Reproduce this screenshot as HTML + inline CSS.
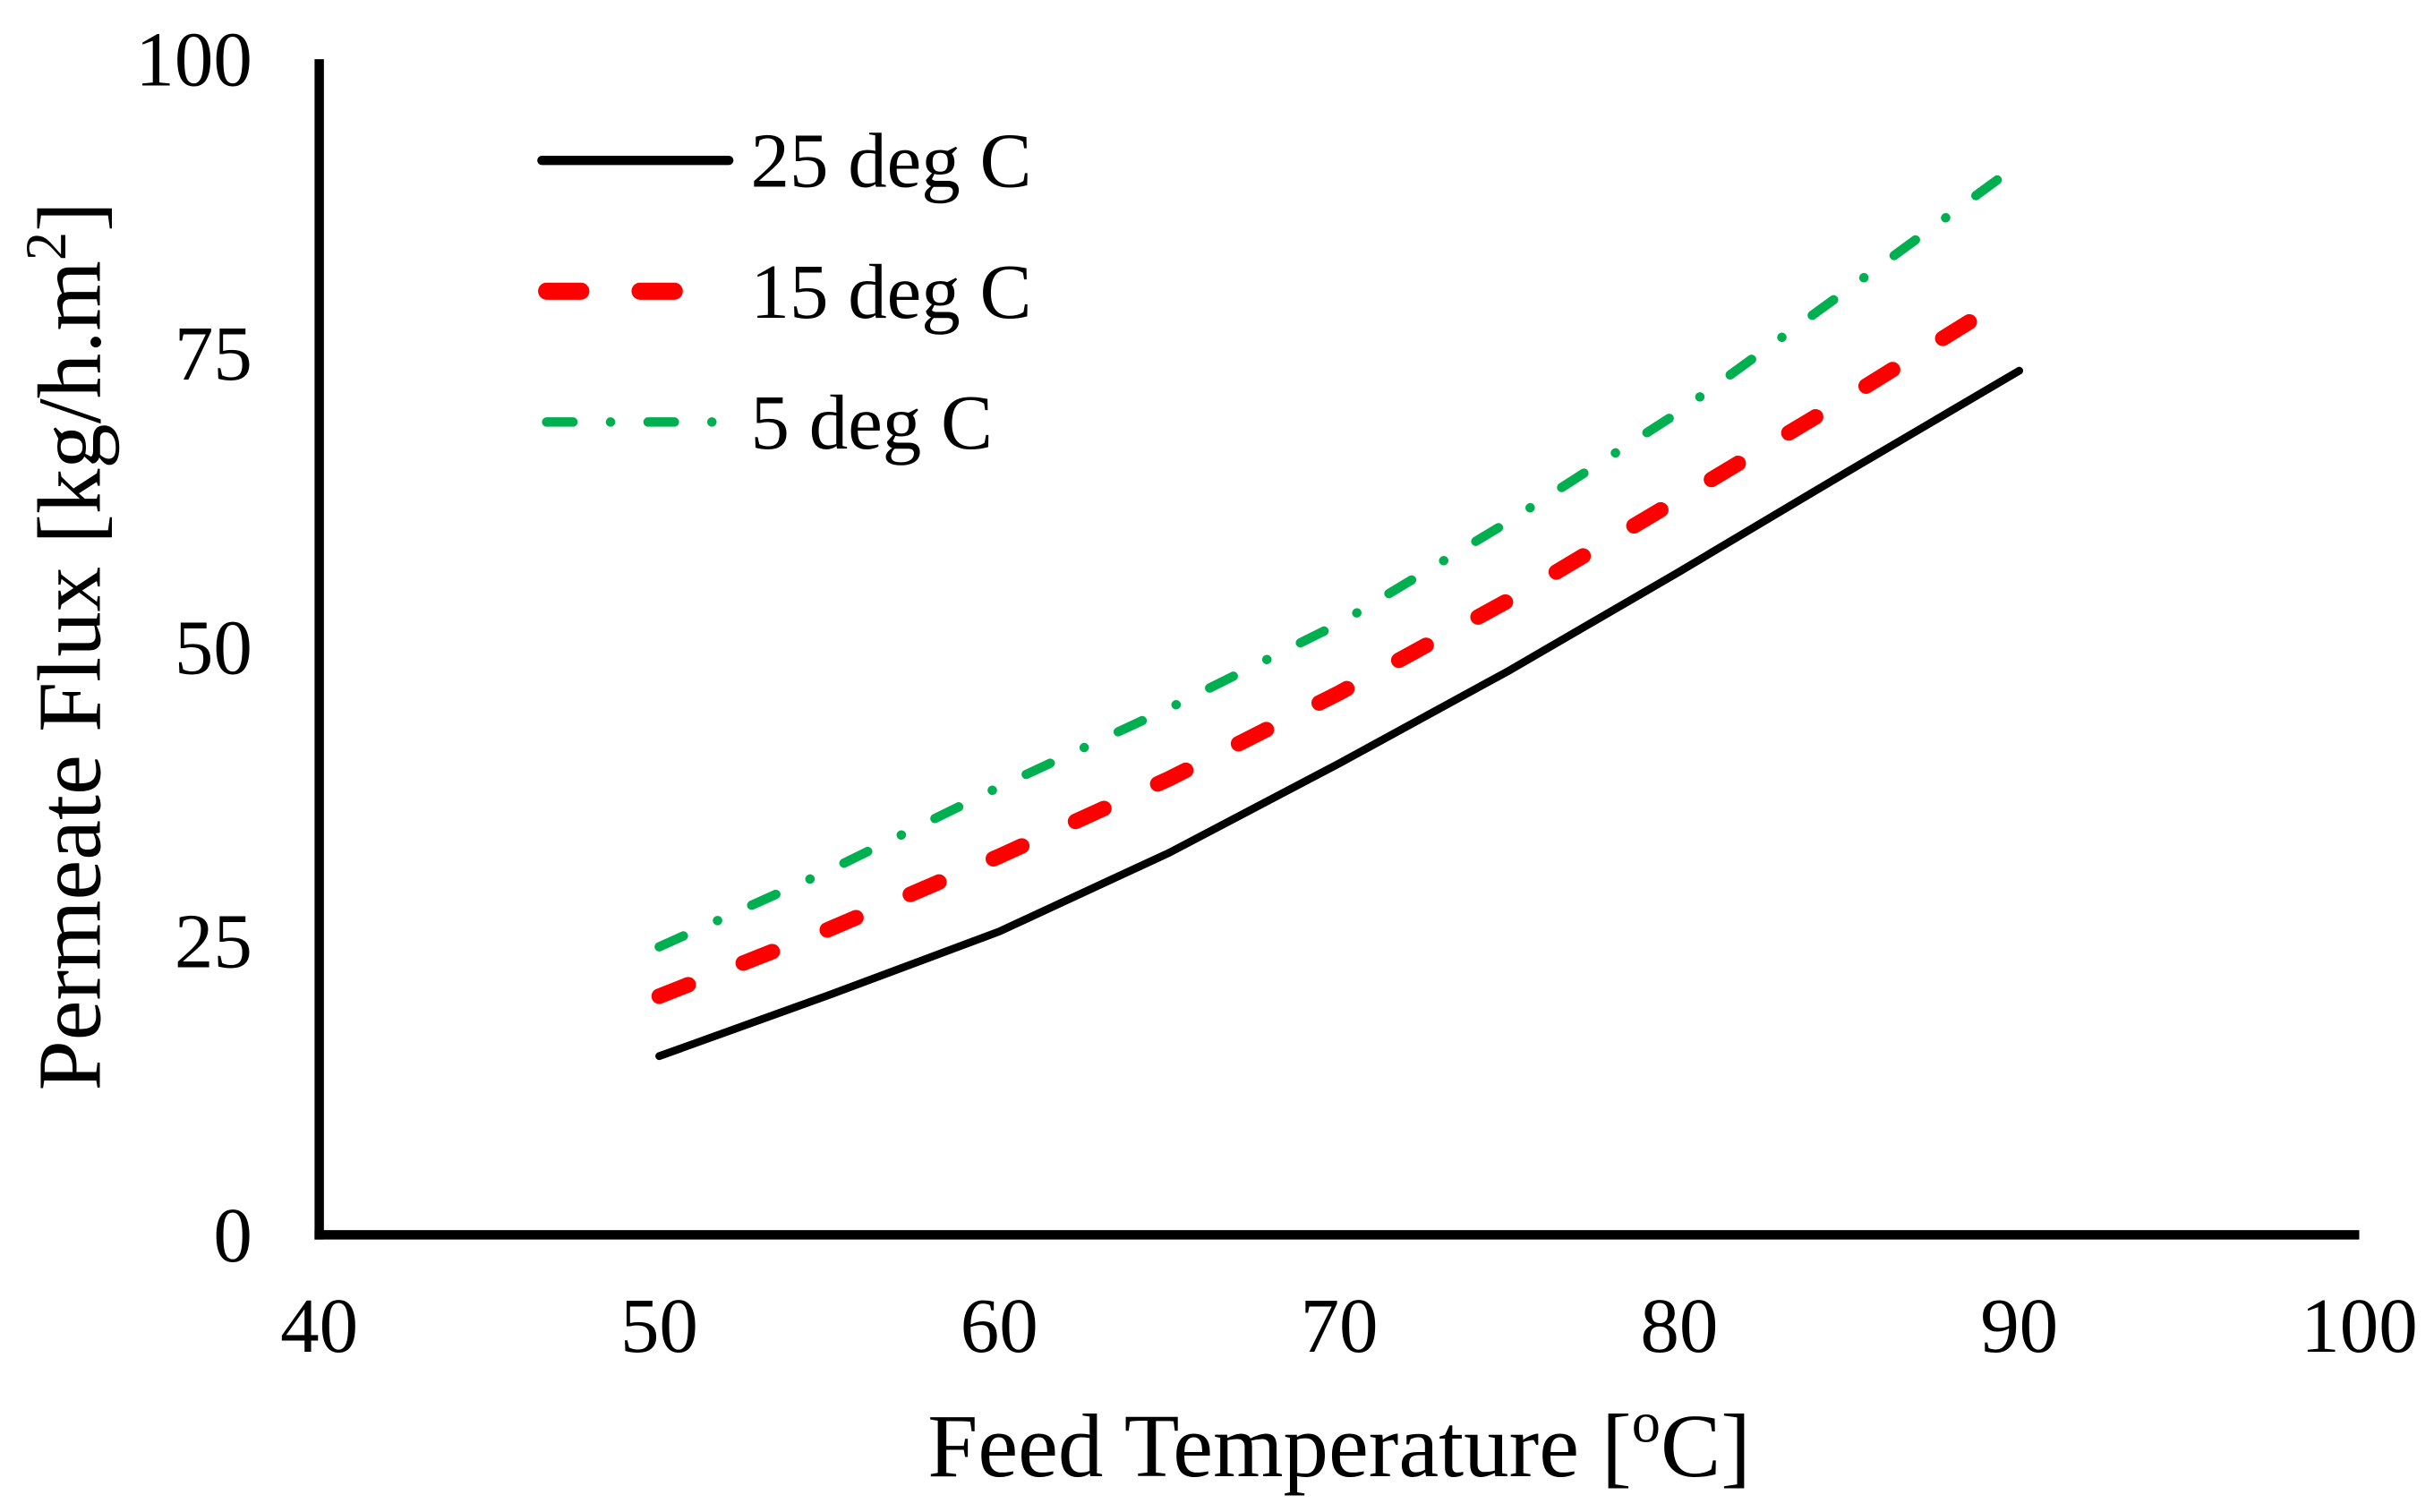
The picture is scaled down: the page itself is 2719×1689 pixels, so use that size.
<!DOCTYPE html>
<html><head><meta charset="utf-8"><style>html,body{margin:0;padding:0;background:#fff}svg{display:block}text{font-family:"Liberation Serif",serif;fill:#000}</style></head>
<body>
<svg id="chart" width="2719" height="1689" viewBox="0 0 1563 971" preserveAspectRatio="none" xmlns="http://www.w3.org/2000/svg">
<rect width="1563" height="971" fill="#fff"/>
<g id="series"></g>
<line x1="205" y1="38" x2="205" y2="796" stroke="#000" stroke-width="6"/>
<line x1="202" y1="793" x2="1515" y2="793" stroke="#000" stroke-width="6"/>
<g id="yt"></g>
<g id="xt"></g>
<text x="860" y="948" font-size="58" text-anchor="middle">Feed Temperature [<tspan font-size="37" dy="-22">o</tspan><tspan dy="22">C]</tspan></text>
<text transform="translate(64,415) rotate(-90)" font-size="58" text-anchor="middle">Permeate Flux [kg/h.m<tspan font-size="37" dy="-22">2</tspan><tspan dy="22">]</tspan></text>
<g>
<line x1="348" y1="103" x2="468" y2="103" stroke="#000" stroke-width="6" stroke-linecap="round"/>
<text x="482" y="120" font-size="50">25 deg C</text>
<line x1="351" y1="187" x2="470" y2="187" stroke="#ff0000" stroke-width="11" stroke-linecap="round" stroke-dasharray="22 38"/>
<text x="482" y="204" font-size="50">15 deg C</text>
<line x1="351" y1="271" x2="470" y2="271" stroke="#00b050" stroke-width="6" stroke-linecap="round" stroke-dasharray="17 24 0.1 24"/>
<text x="482" y="288" font-size="50">5 deg C</text>
</g>
</svg>
<script>
const xValues = [50,55,60,65,70,75,80,85,90];
const flux25 = [15.2,20.4,25.8,32.5,40.1,48.0,56.4,65.0,73.5];
const flux15 = [20.3,26.0,32.2,38.8,46.1,54.0,62.6,71.3,80.3];
const flux5 = [24.5,31.0,38.1,44.8,52.0,60.7,70.0,80.5,91.1];
const xTicks = ["40","50","60","70","80","90","100"];
const yTicks = ["0","25","50","75","100"];
const NS="http://www.w3.org/2000/svg";
function sx(v){return 205+(v-40)*(1515-205)/60;}
function sy(v){return 793-v*(793-38)/100;}
const sg=document.getElementById('series');
function addSeries(vals,name,color,w,dash){
  const p=document.createElementNS(NS,'polyline');
  p.setAttribute('points',vals.map((v,i)=>sx(xValues[i])+','+sy(v)).join(' '));
  p.setAttribute('fill','none');p.setAttribute('stroke',color);p.setAttribute('stroke-width',w);
  p.setAttribute('stroke-linecap','round');p.setAttribute('stroke-linejoin','round');
  if(dash)p.setAttribute('stroke-dasharray',dash);
  
  
  sg.appendChild(p);
}
addSeries(flux5,'series-5-deg-c','#00b050',6,'17 24 0.1 24');
addSeries(flux15,'series-15-deg-c','#ff0000',10,'20 38');
addSeries(flux25,'series-25-deg-c','#000',5,null);
const yt=document.getElementById('yt');
yTicks.forEach(t=>{const e=document.createElementNS(NS,'text');
e.setAttribute('x',162);e.setAttribute('y',sy(+t)+17);e.setAttribute('font-size','50');e.setAttribute('text-anchor','end');e.textContent=t;


yt.appendChild(e);});
const xt=document.getElementById('xt');
xTicks.forEach(t=>{const e=document.createElementNS(NS,'text');
e.setAttribute('x',sx(+t));e.setAttribute('y',868);e.setAttribute('font-size','50');e.setAttribute('text-anchor','middle');e.textContent=t;


xt.appendChild(e);});
</script>
</body></html>
